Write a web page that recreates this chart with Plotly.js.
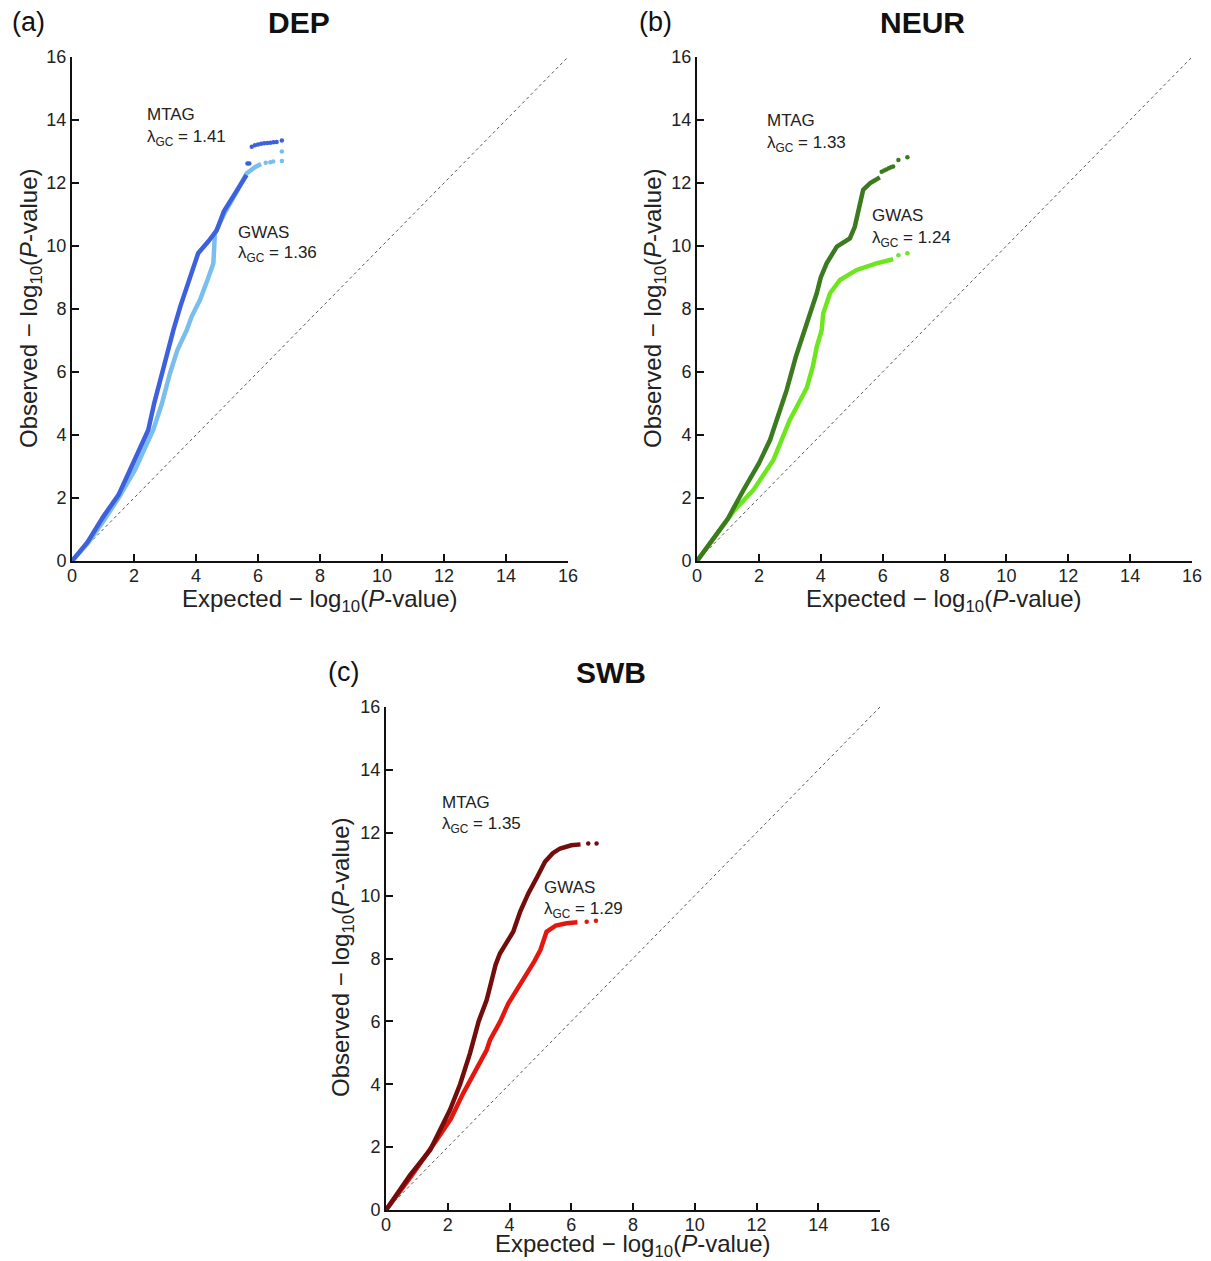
<!DOCTYPE html>
<html>
<head>
<meta charset="utf-8">
<script src="https://cdn.plot.ly/plotly-3.0.1.min.js"></script>
<style>html,body{margin:0;padding:0;background:#fff}#chart{width:1211px;height:1261px}</style>
</head>
<body>
<div id="chart"></div>
<script>
// ---------- data ----------
const tickVals = [0, 2, 4, 6, 8, 10, 12, 14, 16];
const diagX = [0, 16];
const diagY = [0, 16];

// (a) DEP
const depMtagX = [0, 0.5, 1.01, 1.5, 1.87, 2.2, 2.46, 2.65, 2.84, 3.05, 3.27, 3.5, 3.8, 4.07, 4.4, 4.67, 4.9, 5.2, 5.45, 5.63];
const depMtagY = [0, 0.6, 1.41, 2.1, 2.89, 3.6, 4.16, 5.0, 5.75, 6.6, 7.33, 8.1, 9.0, 9.77, 10.15, 10.5, 11.1, 11.6, 12.0, 12.25];
const depMtagTailX = [5.66, 5.72, 5.8, 5.9, 6.0, 6.1, 6.2, 6.3, 6.4, 6.5, 6.6, 6.77];
const depMtagTailY = [12.62, 12.62, 13.15, 13.2, 13.22, 13.25, 13.26, 13.27, 13.28, 13.29, 13.3, 13.35];
const depGwasX = [0, 0.5, 1.0, 1.5, 2.03, 2.3, 2.62, 2.9, 3.16, 3.4, 3.7, 3.86, 4.13, 4.4, 4.56, 4.61, 4.9, 5.3, 5.63, 5.9, 6.1];
const depGwasY = [0, 0.55, 1.25, 2.0, 2.89, 3.5, 4.16, 5.0, 5.96, 6.7, 7.33, 7.76, 8.29, 9.0, 9.45, 10.4, 11.0, 11.7, 12.3, 12.5, 12.6];
const depGwasTailX = [6.25, 6.4, 6.49, 6.77, 6.77];
const depGwasTailY = [12.64, 12.66, 12.68, 12.7, 13.0];

// (b) NEUR
const neurMtagX = [0, 0.64, 1.0, 1.5, 2.0, 2.36, 2.6, 2.9, 3.2, 3.49, 3.87, 4.0, 4.19, 4.52, 4.94, 5.1, 5.2, 5.27, 5.37, 5.6, 5.91];
const neurMtagY = [0, 0.88, 1.35, 2.25, 3.1, 3.84, 4.5, 5.43, 6.5, 7.33, 8.5, 9.0, 9.45, 9.98, 10.24, 10.61, 11.1, 11.46, 11.78, 12.0, 12.18];
const neurMtagTailX = [5.97, 6.05, 6.12, 6.2, 6.27, 6.34, 6.51, 6.8];
const neurMtagTailY = [12.36, 12.4, 12.43, 12.47, 12.5, 12.52, 12.73, 12.82];
const neurGwasX = [0, 0.6, 1.2, 1.82, 2.47, 3.0, 3.3, 3.55, 3.75, 3.87, 4.03, 4.08, 4.3, 4.62, 5.16, 5.8, 6.34];
const neurGwasY = [0, 0.8, 1.6, 2.25, 3.21, 4.48, 5.0, 5.5, 6.2, 6.8, 7.33, 7.86, 8.5, 8.92, 9.24, 9.45, 9.58];
const neurGwasTailX = [6.51, 6.8];
const neurGwasTailY = [9.71, 9.77];

// (c) SWB
const swbMtagX = [0, 0.78, 1.43, 2.07, 2.4, 2.72, 3.0, 3.26, 3.37, 3.55, 3.69, 3.9, 4.12, 4.35, 4.61, 4.9, 5.15, 5.4, 5.64, 6.0, 6.3];
const swbMtagY = [0, 1.11, 1.91, 3.18, 4.0, 4.98, 6.0, 6.68, 7.1, 7.8, 8.16, 8.5, 8.85, 9.5, 10.07, 10.6, 11.08, 11.35, 11.5, 11.6, 11.63];
const swbMtagTailX = [6.55, 6.82];
const swbMtagTailY = [11.66, 11.66];
const swbGwasX = [0, 0.8, 1.64, 2.1, 2.5, 2.9, 3.26, 3.37, 3.7, 3.96, 4.3, 4.56, 4.8, 5.0, 5.2, 5.5, 5.85, 6.2];
const swbGwasY = [0, 1.05, 2.23, 2.9, 3.71, 4.4, 5.09, 5.41, 6.0, 6.57, 7.1, 7.53, 7.9, 8.27, 8.85, 9.05, 9.12, 9.15];
const swbGwasTailX = [6.5, 6.8];
const swbGwasTailY = [9.17, 9.2];

const panelLetters = ['(a)', '(b)', '(c)'];
const panelTitles = ['DEP', 'NEUR', 'SWB'];
const mtagLambda = ['1.41', '1.33', '1.35'];
const gwasLambda = ['1.36', '1.24', '1.29'];
const xTitle = 'Expected \u2212 log<sub>10</sub>(<i>P</i>-value)';
const yTitle = 'Observed \u2212 log<sub>10</sub>(<i>P</i>-value)';

// ---------- styling ----------
const W = 1211, H = 1261;
const FONT = 'Liberation Sans, Arial, sans-serif';
const colors = {
  depM: '#3d60dc', depG: '#7abdef',
  neurM: '#3b7a1e', neurG: '#6ee61e',
  swbM: '#740c0c', swbG: '#e4170f'
};

function px(a, b) { return [a / W, b / W]; }
function py(top, bottom) { return [1 - bottom / H, 1 - top / H]; }

const traces = [];
function addPanel(ax, mx, my, mtx, mty, gx, gy, gtx, gty, cM, cG) {
  const xa = 'x' + (ax === 1 ? '' : ax), ya = 'y' + (ax === 1 ? '' : ax);
  traces.push({x: diagX, y: diagY, xaxis: xa, yaxis: ya, mode: 'lines',
    line: {color: '#555', width: 1, dash: 'dot'}, hoverinfo: 'skip'});
  traces.push({x: gx, y: gy, xaxis: xa, yaxis: ya, mode: 'lines',
    line: {color: cG, width: 4.5}});
  traces.push({x: gtx, y: gty, xaxis: xa, yaxis: ya, mode: 'markers',
    marker: {color: cG, size: 4.5}});
  traces.push({x: mx, y: my, xaxis: xa, yaxis: ya, mode: 'lines',
    line: {color: cM, width: 4.5}});
  traces.push({x: mtx, y: mty, xaxis: xa, yaxis: ya, mode: 'markers',
    marker: {color: cM, size: 4.5}});
}
addPanel(1, depMtagX, depMtagY, depMtagTailX, depMtagTailY, depGwasX, depGwasY, depGwasTailX, depGwasTailY, colors.depM, colors.depG);
addPanel(2, neurMtagX, neurMtagY, neurMtagTailX, neurMtagTailY, neurGwasX, neurGwasY, neurGwasTailX, neurGwasTailY, colors.neurM, colors.neurG);
addPanel(3, swbMtagX, swbMtagY, swbMtagTailX, swbMtagTailY, swbGwasX, swbGwasY, swbGwasTailX, swbGwasTailY, colors.swbM, colors.swbG);

function axisBase(dom, anchor, standoff) {
  return {domain: dom, anchor: anchor, range: [0, 16], tickvals: tickVals, ticktext: tickVals.map(String),
    showgrid: false, zeroline: false, showline: true, linecolor: '#111', linewidth: 2,
    ticks: 'inside', ticklen: 7, tickwidth: 2, tickcolor: '#111',
    tickfont: {family: FONT, size: 18, color: '#222'},
    ticklabelstandoff: standoff,
    fixedrange: true};
}

const domA = {x: px(72, 568), y: py(57, 561)};
const domB = {x: px(697, 1192), y: py(57, 561)};
const domC = {x: px(386, 880), y: py(707, 1210)};

const annotations = [];
function panelText(letterX, letterY, titleX, idx) {
  annotations.push({xref: 'paper', yref: 'paper', x: letterX / W, y: 1 - letterY / H, text: panelLetters[idx],
    showarrow: false, xanchor: 'center', yanchor: 'middle', font: {family: FONT, size: 27, color: '#111'}});
  annotations.push({xref: 'paper', yref: 'paper', x: titleX / W, y: 1 - letterY / H, text: '<b>' + panelTitles[idx] + '</b>',
    showarrow: false, xanchor: 'center', yanchor: 'middle', font: {family: FONT, size: 30, color: '#111'}});
}
panelText(28, 22, 299, 0);
panelText(655, 22, 922, 1);
panelText(343, 672, 611, 2);

function axisTitles(cx, xy, yx, cy) {
  annotations.push({xref: 'paper', yref: 'paper', x: cx / W, y: 1 - xy / H, text: xTitle, showarrow: false, borderpad: 0,
    xanchor: 'center', yanchor: 'middle', font: {family: FONT, size: 24, color: '#222'}});
  annotations.push({xref: 'paper', yref: 'paper', x: yx / W, y: 1 - cy / H, text: yTitle, showarrow: false, textangle: -90, borderpad: 0,
    xanchor: 'center', yanchor: 'middle', font: {family: FONT, size: 24, color: '#222'}});
}
axisTitles(320, 600, 30, 309);
axisTitles(944, 600, 654, 309);
axisTitles(633, 1245, 342, 958);

function lambdaText(ax, x, y1, y2, name, val) {
  const xa = 'x' + (ax === 1 ? '' : ax), ya = 'y' + (ax === 1 ? '' : ax);
  annotations.push({xref: xa, yref: ya, x: x, y: y1, text: name, showarrow: false, xanchor: 'left', yanchor: 'middle',
    font: {family: FONT, size: 17, color: '#222'}});
  annotations.push({xref: xa, yref: ya, x: x, y: y2, text: '\u03bb<sub>GC</sub> = ' + val, showarrow: false, xanchor: 'left', yanchor: 'middle',
    font: {family: FONT, size: 17, color: '#222'}});
}
lambdaText(1, 2.35, 14.16, 13.43, 'MTAG', mtagLambda[0]);
lambdaText(1, 5.3, 10.44, 9.75, 'GWAS', gwasLambda[0]);
lambdaText(2, 2.2, 13.97, 13.24, 'MTAG', mtagLambda[1]);
lambdaText(2, 5.6, 10.98, 10.22, 'GWAS', gwasLambda[1]);
lambdaText(3, 1.75, 12.95, 12.25, 'MTAG', mtagLambda[2]);
lambdaText(3, 5.06, 10.27, 9.54, 'GWAS', gwasLambda[2]);

const layout = {
  width: W, height: H,
  margin: {l: 0, r: 0, t: 0, b: 0},
  paper_bgcolor: '#fff', plot_bgcolor: '#fff',
  showlegend: false,
  font: {family: FONT},
  xaxis: axisBase(domA.x, 'y', -3), yaxis: axisBase(domA.y, 'x', 0),
  xaxis2: axisBase(domB.x, 'y2', -3), yaxis2: axisBase(domB.y, 'x2', 0),
  xaxis3: axisBase(domC.x, 'y3', -3), yaxis3: axisBase(domC.y, 'x3', 0),
  annotations: annotations
};

Plotly.newPlot('chart', traces, layout, {displayModeBar: false, staticPlot: true});
</script>
</body>
</html>
